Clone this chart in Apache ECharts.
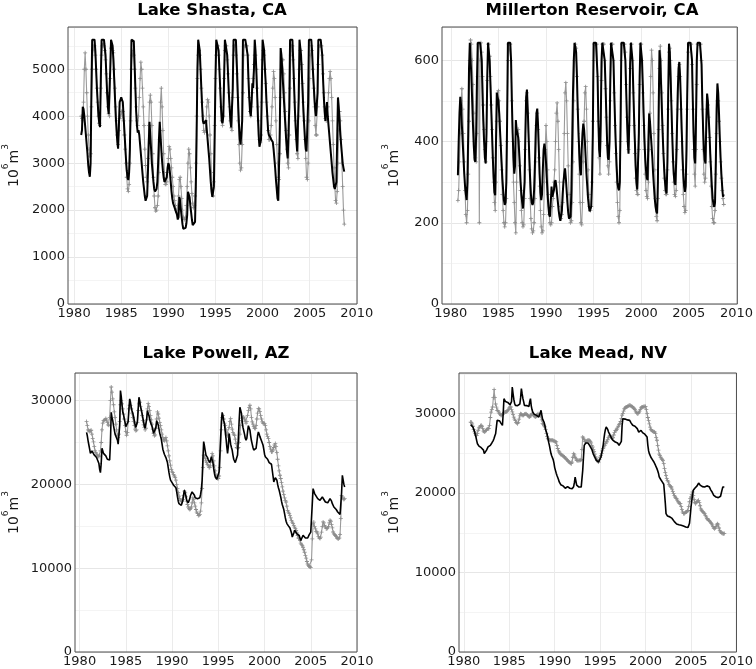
<!DOCTYPE html>
<html>
<head>
<meta charset="utf-8">
<script src="https://cdn.jsdelivr.net/npm/echarts@6/dist/echarts.min.js"></script>
<style>
html,body{margin:0;padding:0;background:#fff;}
#chart{width:756px;height:669px;}
</style>
</head>
<body>
<div id="chart"></div>
<script>
// Monthly series, water years Oct 1980 .. Sep 2008 (12 values per row: Oct..Sep)
const startYear = 1980, startMonth = 10;
const yearTicks = [1980, 1985, 1990, 1995, 2000, 2005, 2010];

const shastaSim = [
3600,3700,4200,4150,4000,3800,3600,3400,3200,2950,2800,2710,
3000,4500,5630,5630,5630,5630,5400,5000,4600,4300,4000,3850,
3770,4800,5630,5630,5630,5630,5630,5300,4900,4500,4200,4050,
4020,5000,5630,5630,5500,5200,4800,4400,4000,3700,3450,3310,
3800,4300,4350,4400,4350,4300,4000,3700,3400,3100,2850,2700,
2640,2800,3300,4200,5630,5630,5630,5600,5100,4600,4100,3800,
3650,3700,3600,3400,3200,3000,2800,2600,2450,2300,2200,2180,
2300,2800,3400,3880,3600,3300,3000,2800,2600,2450,2400,2400,
2450,2600,3000,3500,3880,3600,3300,3050,2850,2700,2600,2580,
2600,2700,2900,3000,2950,2800,2600,2400,2250,2150,2100,2050,
2000,1950,1900,1800,1850,2280,2200,2000,1850,1700,1600,1570,
1580,1620,1720,1900,2390,2350,2280,2100,1950,1800,1680,1650,
1680,1750,2500,3600,5000,5630,5630,5400,5000,4600,4200,3900,
3840,3850,3880,3910,3700,3500,3300,3100,2850,2600,2400,2280,
2250,2500,3600,4800,5630,5630,5630,5400,5000,4600,4200,3900,
3850,4000,4800,5630,5630,5630,5300,4900,4500,4200,3900,3760,
3760,4600,5630,5630,5630,5630,5200,4700,4200,3800,3500,3400,
3400,3900,5630,5630,5630,5630,5630,5630,5300,4800,4400,4100,
4000,4300,4700,4600,5000,5630,5400,5000,4500,4000,3600,3350,
3350,3500,4600,5630,5630,5400,5000,4700,4300,4000,3700,3600,
3600,3550,3500,3500,3450,3300,3100,2900,2650,2450,2250,2200,
2200,3800,5450,5300,5000,4700,4400,4100,3800,3500,3250,3100,
3100,4200,5630,5630,5630,5630,5200,4700,4200,3800,3500,3250,
3250,4400,5630,5630,5300,4900,4500,4100,3800,3500,3300,3250,
3250,4300,5630,5630,5630,5630,5400,5000,4700,4400,4150,4000,
4000,4500,5630,5630,5630,5630,5630,5300,4800,4400,4100,3900,
3900,4300,4000,3800,3600,3400,3200,3000,2800,2650,2500,2450,
2450,2600,3500,4400,4200,3900,3600,3400,3200,3000,2900,2820];

const shastaObs = [
4000,3950,3900,4300,5000,5350,5000,4500,4000,3600,3300,3150,
3200,4200,5000,5400,5500,5500,5300,5000,4600,4300,4000,3850,
3800,4600,5300,5500,5550,5500,5400,5200,4900,4500,4200,4050,
4000,4800,5450,5450,5400,5350,5000,4600,4200,3900,3600,3400,
3700,3950,4000,4100,4100,4100,3900,3600,3300,3000,2700,2450,
2400,2550,3000,3900,5000,5300,5400,5300,5000,4600,4200,3900,
3800,4000,4400,4800,5150,5000,4600,4200,3800,3300,2950,2700,
2600,3100,3800,4300,4450,4300,3800,3200,2700,2300,2050,1980,
2000,2100,2300,2800,3500,4300,4600,4200,3700,3200,2800,2550,
2550,2600,2800,3100,3350,3300,3100,2900,2700,2500,2300,2200,
2100,2000,1950,2100,2300,2650,2700,2500,2250,2000,1850,1800,
1800,1850,2100,2500,3000,3300,3200,2900,2600,2350,2150,2050,
2100,2300,3000,4000,4800,5300,5400,5300,5000,4600,4300,4000,
3700,3650,3700,3900,4200,4350,4300,4000,3600,3200,2800,2450,
2300,2600,3800,4800,5300,5500,5500,5300,5000,4600,4200,3900,
3800,4000,4800,5400,5500,5500,5200,4900,4500,4200,3900,3750,
3700,4400,5300,5500,5500,5300,4900,4400,3900,3400,3000,2850,
2900,3400,4500,5300,5500,5500,5500,5500,5300,4800,4400,4100,
4000,4200,4500,4800,5100,5300,5300,5000,4600,4200,3900,3500,
3450,3600,4300,5200,5400,5300,5000,4700,4300,4000,3700,3500,
3500,3600,3800,4200,4600,4950,4800,4400,3900,3400,3000,2700,
2650,3200,4400,5000,5200,5200,4900,4500,4100,3700,3300,3000,
2900,3600,4600,5300,5500,5500,5200,4800,4300,3900,3500,3200,
3100,4000,5000,5400,5400,5100,4700,4300,3900,3500,3100,2700,
2650,3000,3900,4800,5300,5500,5400,5000,4600,4200,3800,3600,
3600,4200,5100,5500,5500,5500,5500,5300,4900,4500,4200,3950,
3900,4000,4200,4500,4800,4950,4800,4400,3900,3400,2900,2500,
2200,2150,2400,3000,3700,4100,3900,3500,3000,2500,2000,1700];

const millertonSim = [
317,400,470,510,490,440,400,360,320,290,270,256,
300,420,580,643,643,560,500,440,390,355,350,420,
550,643,643,643,643,643,600,520,450,400,360,346,
420,560,643,643,600,540,480,420,360,310,275,268,
400,520,510,500,470,430,390,350,310,280,255,244,
250,300,450,643,643,643,643,600,500,420,360,321,
340,453,430,420,410,380,340,300,270,250,235,231,
300,420,510,528,480,420,360,310,270,250,244,250,
280,340,420,470,481,440,380,320,275,256,270,330,
380,395,380,350,310,270,240,220,215,250,289,264,
264,280,300,305,290,270,250,230,215,205,203,230,
270,300,320,334,310,280,250,225,210,207,215,280,
400,520,600,643,643,620,560,480,420,370,330,317,
380,420,444,430,400,360,320,290,260,240,228,227,
240,300,420,643,643,643,643,643,560,450,380,362,
450,600,643,643,643,600,540,470,400,360,355,400,
550,643,643,643,600,520,450,390,340,300,285,280,
300,450,643,643,643,643,643,600,530,460,400,370,
450,592,643,643,600,530,460,400,340,300,282,280,
420,560,643,643,600,540,470,410,360,330,310,305,
400,469,450,420,390,360,320,290,260,240,228,223,
300,480,625,600,540,480,420,370,330,300,280,272,
350,520,641,620,560,490,420,360,320,300,293,350,
430,520,580,596,560,500,430,370,320,290,276,290,
380,520,643,643,643,643,643,600,500,420,360,346,
450,600,643,643,643,643,643,590,500,430,380,355,
346,450,518,500,460,420,370,330,290,260,245,239,
250,350,480,543,520,470,410,360,320,290,264,270];

const millertonObs = [
255,280,350,420,500,530,480,420,350,280,220,200,
230,320,450,600,650,640,600,540,470,400,360,350,
420,560,640,200,600,643,620,560,490,430,380,350,
400,550,640,640,610,560,490,430,360,300,250,230,
300,450,520,525,500,450,390,330,270,230,200,190,
200,260,400,600,640,640,640,600,500,400,300,250,
200,175,300,420,430,400,340,280,230,200,190,195,
260,380,500,520,470,400,330,260,210,185,175,180,
200,260,350,440,470,430,360,290,230,190,175,180,
220,300,380,440,400,330,270,220,200,195,200,240,
260,300,330,400,470,495,450,380,300,240,210,220,
250,300,420,520,545,500,420,340,270,220,200,205,
250,350,500,600,640,630,560,480,400,320,250,200,
195,250,350,450,520,535,480,400,330,270,240,230,
240,300,450,600,640,640,640,640,560,450,360,320,
400,550,640,640,640,600,530,460,390,340,320,350,
500,640,640,640,600,520,440,370,300,250,215,200,
230,400,600,640,640,640,640,620,540,460,400,380,
440,580,640,640,600,520,440,370,310,280,270,270,
380,540,640,640,600,520,440,380,320,280,265,260,
300,380,470,560,625,600,520,420,330,260,215,205,
260,430,580,635,600,520,440,370,310,280,270,270,
330,480,620,630,600,500,420,350,300,270,265,280,
380,480,560,590,560,480,400,330,270,240,225,230,
320,480,620,640,640,640,640,590,480,380,320,290,
380,540,640,640,640,640,640,600,480,380,320,300,
310,400,480,490,460,410,350,290,240,210,200,200,
230,320,420,500,500,450,400,350,310,280,260,245];

const powellSim = [
26200,25800,25200,24700,24200,23700,23700,24000,24200,23800,23500,23300,
23300,23200,23200,23270,22500,21800,21400,22500,24300,24000,23700,23500,
23600,23400,23200,23000,22900,22800,22900,25000,28600,28000,27600,27000,
26500,26000,25900,25800,25300,24800,24700,27000,31200,30500,29500,28600,
28300,27800,27400,26900,26850,26900,27500,29000,30200,29800,29200,28800,
28500,28100,27600,27100,26800,26700,27500,29000,30400,30000,29300,28900,
28500,28000,27500,27000,26700,26800,27800,28800,28600,28200,27700,27400,
27200,26900,26500,26100,25900,26000,26800,27600,27500,27100,26600,26100,
25900,25400,24800,24200,23900,23600,23400,23200,23100,22600,22000,21400,
20900,20500,20300,20200,20000,19900,19900,19800,19600,19100,18500,18000,
17700,17500,17500,17500,17600,18100,18800,19300,19100,18600,18100,17900,
17800,17900,18300,18700,18900,19100,19300,19000,18700,18400,18300,18300,
18300,18200,18300,18400,18800,19400,20500,23000,25100,24600,24000,23500,
23400,23200,22900,22700,22600,22800,23300,23200,22600,21900,21300,20900,
20700,20600,20600,20700,21500,23500,25500,27500,28600,28200,27600,27200,
26300,25500,24500,23700,24500,26060,25500,24800,24400,24100,23500,23000,
22800,22600,22500,22500,23500,25500,27500,29200,29400,28500,27500,26800,
26400,26000,25500,25260,25500,26300,27000,27050,26500,25800,25200,24800,
24400,24100,23900,23870,24300,25000,25800,26260,26000,25700,25500,25200,
25060,24700,24200,23600,23300,23300,23270,23000,22800,22600,22500,22480,
22400,22280,21000,20290,20500,20800,20890,20500,20000,19600,19300,18900,
18500,18000,17600,17310,17000,16500,16000,15600,15320,15200,15050,14920,
14800,14600,14200,13720,13900,14200,14520,14500,14300,14100,14000,13920,
13900,13600,13300,13130,13500,13920,13800,13700,13600,13550,13520,13600,
13800,14000,14100,14300,14400,14500,19490,19300,18900,18700,18600,18500,
18300,18200,18100,18100,18000,18200,18500,18400,18200,18000,17900,17900,
17900,17800,17900,18000,18300,18300,18000,17700,17500,17300,17200,17100,
17000,16800,16700,16600,16510,16400,16500,19000,21080,21000,20000,19690];

const powellObs = [
27500,27000,26500,26400,26300,26400,26460,26000,25500,25060,24500,24000,
23800,23600,23470,23400,23300,23500,24000,25000,26500,27300,27600,27650,
27700,27850,27700,27400,27100,27050,28000,30000,31620,31000,30200,29500,
28640,28000,27200,26500,25860,25600,26000,27500,29500,30000,29600,29000,
28400,27800,27000,26300,25860,26200,27500,29000,29440,29400,29000,28500,
28000,27500,27000,26600,26400,26500,27400,28800,29600,29800,29300,28800,
28200,27600,27100,26800,26500,26700,27700,29000,29640,29300,28800,28200,
27700,27200,26600,26100,25800,25900,26700,27800,28640,28400,27900,27400,
27000,26500,26000,25600,25300,25200,25400,25600,25200,24600,24000,23400,
22800,22300,21800,21500,21400,21200,21000,20800,20500,20000,19500,19000,
18600,18300,18100,18000,18000,18200,18700,19200,19000,18500,18000,17600,
17300,17100,17000,17100,17300,17800,18400,18200,17800,17400,17000,16700,
16500,16300,16310,16400,16800,17800,19500,22000,23500,23400,23100,22800,
22600,22400,22200,22000,22000,22200,22800,23670,23400,22800,22200,21600,
21100,20800,20700,20700,21000,22000,24000,26500,28000,28200,27800,27300,
27000,26500,26000,25800,26000,26800,27500,27850,27200,26600,26200,26000,
25860,25400,24900,24400,24270,24400,25000,26000,27000,27600,27900,28000,
28040,27800,27500,27300,27500,28200,28800,29200,29440,29000,28000,27450,
27200,26900,26700,26660,27000,27800,28500,29040,29000,28700,28200,27800,
27450,27300,27300,27250,27000,26500,26000,25700,25460,25000,24500,24200,
23870,23900,24100,24400,24700,24870,24500,23800,23000,22200,21600,21090,
20700,20200,19700,19200,18800,18400,18100,17900,17400,16900,16700,16500,
16300,16000,15700,15500,15320,15100,14900,14720,14500,14200,13900,13600,
13530,13300,13000,12800,12730,12500,12200,11900,11540,11200,10800,10500,
10300,10200,10140,10100,11000,13500,15300,15500,15000,14700,14400,14320,
14100,13800,13600,13530,13700,14300,15000,15520,15400,15100,14900,14720,
14720,14800,15000,15400,15720,15600,15200,14800,14320,14100,14000,13900,
13800,13600,13530,13500,13600,14000,15920,18700,18500,18300,18200,18300];

const meadSim = [
28600,28600,28400,28300,28200,27800,27400,27050,26600,26200,26000,25900,
25900,25800,25700,25600,25580,25400,24950,25000,25200,25400,25600,25800,
25900,26000,26000,26100,26300,26500,26630,26900,27200,27460,28300,29140,
29140,29200,29100,29000,28800,28600,28510,30000,31870,31700,31500,31450,
31450,31400,31300,31200,31100,31030,31500,33340,32500,31800,31300,31030,
31030,31000,31000,31000,31030,31200,32000,33130,32500,31900,31500,31030,
31000,31030,31000,30900,30820,30900,31500,31870,31000,30500,30200,30000,
29900,29800,29770,29770,29700,29600,29560,29800,30100,30400,29800,29300,
29140,28900,28500,28000,27880,27400,26900,26400,26000,25500,25000,24700,
24530,24200,23800,23200,22850,22500,22200,22010,21700,21400,21170,21050,
21000,20960,20900,20800,20700,20600,20540,20600,20800,20700,20600,20600,
20550,20540,20540,20540,20800,21300,22010,21500,21000,20800,20750,20750,
20750,20750,20750,20900,22850,24500,26000,26200,26300,26420,26400,26300,
26100,26000,25900,25790,25500,25200,24900,24740,24500,24300,24100,23900,
23900,23900,24000,24110,24500,25000,25500,26000,26800,27500,28000,28300,
28300,28000,27700,27460,27300,27100,26900,26700,26630,26500,26450,26420,
26420,26400,26300,26200,26000,25900,25790,26500,28500,29350,29360,29300,
29300,29250,29200,29200,29150,29150,29140,29000,28800,28600,28520,28520,
28500,28400,28350,28300,28100,27900,27670,27700,27800,27880,27700,27600,
27500,27460,27400,27300,27260,27040,26000,25300,24950,24700,24500,24320,
24200,24110,23900,23690,23500,23300,23070,22800,22500,22030,21800,21700,
21600,21400,21200,21100,20000,18800,17410,17200,17100,17000,17000,17000,
16900,16850,16800,16780,16600,16400,16300,16150,16100,16050,16000,16000,
15980,15960,15950,15940,15900,15850,15800,15750,15730,15700,15650,15650,
15700,16200,17200,18240,19000,19800,20340,20500,20600,20700,20760,20900,
21000,21260,21200,21000,20900,20840,20800,20780,20760,20760,20800,20900,
20900,21000,20900,20800,20600,20400,20340,20100,19900,19700,19500,19500,
19500,19450,19400,19420,19400,19350,19600,20000,20400,20760,20700,20760];

const meadObs = [
28930,28900,28700,28400,28000,27700,27500,27300,27260,27500,27900,28200,
28300,28450,28520,28400,28100,27800,27680,27750,27850,27950,28050,28100,
28100,28500,29500,30190,30500,30820,32000,33010,32000,31200,30800,30400,
30400,30200,30000,29900,29780,29800,29900,30000,30100,30150,30190,30190,
30300,30400,30500,30700,30820,30820,30500,30200,29900,29560,29300,29100,
28900,28800,28730,28900,29300,29700,29980,29900,29800,29770,29800,29900,
29950,29980,29900,29800,29700,29600,29560,29700,29850,29980,29900,29800,
29700,29600,29560,29700,29850,29980,29800,29900,29980,29700,29200,28730,
28600,28450,28310,28000,27500,27100,26850,26750,26700,26650,26640,26640,
26640,26600,26550,26500,26450,26430,26000,25600,25300,25160,25000,24850,
24800,24740,24700,24600,24500,24400,24300,24200,24110,24000,23900,23800,
23750,23690,23900,24500,24950,24800,24500,24300,24110,24100,24100,24100,
24110,24110,24200,25500,27050,26900,26700,26500,26430,26500,26600,26640,
26640,26600,26500,26300,26000,25790,25500,25200,24900,24530,24300,24110,
24000,23900,24200,24500,24740,25000,25300,25580,25800,26000,26200,26430,
26430,26700,27000,27150,27260,27100,26950,26850,27000,27300,27600,27890,
27890,28000,28200,28400,28600,28730,29000,29400,29800,29980,30300,30600,
30700,30820,30820,30900,30950,31000,31030,31000,30950,30900,30820,30700,
30600,30500,30300,30100,29980,29980,30100,30300,30500,30700,30820,30820,
30850,30900,30900,30900,30500,30000,29500,29150,28700,28300,28000,27890,
27800,27750,27700,27680,27500,27000,26640,26000,25400,24900,24740,24500,
24300,24200,24110,23700,23060,22600,22200,21800,21600,21400,21100,20900,
20800,20760,20500,20200,19920,19700,19500,19350,19290,19100,18900,18750,
18700,18660,18300,17900,17600,17410,17400,17500,17600,17620,17700,17800,
18300,18900,19300,19500,19800,20130,19700,19200,18800,18660,18800,18950,
19000,19080,18800,18400,18000,17830,17700,17600,17500,17410,17200,17000,
16800,16700,16600,16570,16400,16300,16150,16000,15800,15600,15520,15600,
15800,16000,16150,16000,15600,15300,15100,15000,14950,14900,14890,14900];

// ---- build chart ----
function timeOf(i) { return startYear + (startMonth - 1 + i) / 12; }
function pairs(vals) { return vals.map((v, i) => [timeOf(i), v]); }
const plain = v => String(Math.round(v));

const FONT = 'DejaVu Sans';
const panels = [
  { title: 'Lake Shasta, CA', tx: 212, ty: 2, grid: {left: 68, top: 27, width: 289, height: 277},
    xmin: 1979.35, xmax: 2010.02, ymax: 5900, yint: 1000, gap: 47, sim: shastaSim, obs: shastaObs, bw: 2 },
  { title: 'Millerton Reservoir, CA', tx: 592, ty: 2, grid: {left: 442, top: 27, width: 299, height: 277},
    xmin: 1979.08, xmax: 2010.09, ymax: 682, yint: 200, gap: 41, sim: millertonSim, obs: millertonObs, bw: 2 },
  { title: 'Lake Powell, AZ', tx: 216, ty: 345, grid: {left: 75, top: 373, width: 282, height: 279},
    xmin: 1979.5, xmax: 2010.0, ymax: 33290, yint: 10000, gap: 54, sim: powellSim, obs: powellObs, bw: 1.6 },
  { title: 'Lake Mead, NV', tx: 598, ty: 345, grid: {left: 459, top: 373, width: 282, height: 279},
    xmin: 1979.47, xmax: 2010.0, ymax: 35100, yint: 10000, gap: 58, sim: meadSim, obs: meadObs, bw: 1.6 }
];

const grids = [], xAxes = [], yAxes = [], series = [], graphics = [];
const labelStyle = { fontFamily: FONT, fontSize: 13, color: '#1a1a1a', formatter: plain };
const plusSymbol = 'path://M4,0H6V4H10V6H6V10H4V6H0V4H4Z';

panels.forEach((p, k) => {
  grids.push(Object.assign({ show: true, borderColor: '#4d4d4d', borderWidth: 1, backgroundColor: 'transparent', z: 2 }, p.grid));
  xAxes.push({
    type: 'value', gridIndex: k, min: p.xmin, max: p.xmax, z: 1,
    axisLine: { show: false },
    axisTick: { show: false, customValues: yearTicks },
    axisLabel: Object.assign({ customValues: yearTicks, margin: 3 }, labelStyle),
    splitLine: { show: true, lineStyle: { color: '#ebebeb', width: 1 } }
  });
  yAxes.push({
    type: 'value', gridIndex: k, min: 0, max: p.ymax, interval: p.yint, z: 1,
    axisLine: { show: false }, axisTick: { show: false },
    axisLabel: Object.assign({ margin: 3, showMaxLabel: false, showMinLabel: true }, labelStyle),
    splitLine: { show: true, lineStyle: { color: '#e6e6e6', width: 1 } },
    name: '{b|10}{s|6}{b|m}{s|3}', nameLocation: 'middle', nameRotate: 90, nameGap: p.gap,
    nameTextStyle: {
      color: '#1a1a1a',
      rich: {
        b: { fontFamily: FONT, fontSize: 14, color: '#1a1a1a', lineHeight: 20, verticalAlign: 'bottom' },
        s: { fontFamily: FONT, fontSize: 9, color: '#1a1a1a', lineHeight: 20, verticalAlign: 'top' }
      }
    }
  });
  yAxes.push({
    type: 'value', gridIndex: k, min: 0, max: p.ymax, interval: p.yint / 2, z: 0, position: 'left',
    axisLine: { show: false }, axisTick: { show: false }, axisLabel: { show: false },
    splitLine: { show: true, lineStyle: { color: '#f4f4f4', width: 1 } }
  });
  const yIdx = k * 2;
  series.push({
    type: 'line', xAxisIndex: k, yAxisIndex: yIdx, data: pairs(p.obs), z: 3,
    symbol: plusSymbol, symbolSize: 4, showSymbol: true,
    lineStyle: { color: '#9a9a9a', width: 1.1 },
    itemStyle: { color: '#8c8c8c' },
    emphasis: { disabled: true }, silent: true
  });
  series.push({
    type: 'line', xAxisIndex: k, yAxisIndex: yIdx, data: pairs(p.sim), z: 4,
    showSymbol: false, symbol: 'none',
    lineStyle: { color: '#000', width: p.bw }, emphasis: { disabled: true }, silent: true
  });
  graphics.push({
    type: 'text', x: p.tx, y: p.ty, silent: true,
    style: { text: p.title, fontFamily: FONT, fontWeight: 'bold', fontSize: 16.5, fill: '#000', align: 'center', verticalAlign: 'top' }
  });
});

const chart = echarts.init(document.getElementById('chart'), null, { renderer: 'canvas' });
chart.setOption({
  animation: false,
  backgroundColor: '#fff',
  grid: grids, xAxis: xAxes, yAxis: yAxes, series: series, graphic: graphics
});
</script>
</body>
</html>
